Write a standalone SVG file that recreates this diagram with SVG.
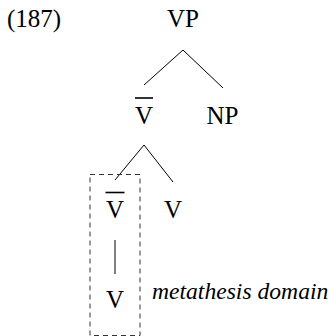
<svg xmlns="http://www.w3.org/2000/svg" width="329" height="336" viewBox="0 0 329 336">
<style>
text{font-family:'Liberation Serif','DejaVu Serif',serif;font-size:25px;fill:#000}
.lbl{text-anchor:middle}
.it{font-style:italic;font-size:23.6px}
.edge{stroke:#000;stroke-width:1;fill:none}
.bar{stroke:#000;stroke-width:1.6}
.box{stroke:#333;stroke-width:1;fill:none;stroke-dasharray:5 4}
</style>
<rect width="329" height="336" fill="#fff"/>
<text x="7" y="27">(187)</text>
<g id="connectors">
<line class="edge" x1="183" y1="50" x2="144" y2="85"/>
<line class="edge" x1="183" y1="50" x2="223" y2="88"/>
<line class="edge" x1="144" y1="145" x2="115" y2="180"/>
<line class="edge" x1="144" y1="145" x2="173" y2="182"/>
<line class="edge" x1="115" y1="240" x2="115" y2="274"/>
</g>
<g id="vp"><text class="lbl" x="183" y="27">VP</text></g>
<g id="vbar1"><text class="lbl" x="144" y="124">V</text><line class="bar" x1="135" y1="98" x2="153" y2="98"/></g>
<g id="np"><text class="lbl" x="222.5" y="124" font-size="26">NP</text></g>
<g id="vbar2"><text class="lbl" x="115" y="218">V</text><line class="bar" x1="105.5" y1="192.5" x2="124.5" y2="192.5"/></g>
<g id="v1"><text class="lbl" x="173" y="218">V</text></g>
<g id="v2"><text class="lbl" x="115" y="308">V</text></g>
<g id="domain">
<rect class="box" x="90" y="174.5" width="50" height="161"/>
<text class="it" x="152" y="299">metathesis domain</text>
</g>
</svg>
